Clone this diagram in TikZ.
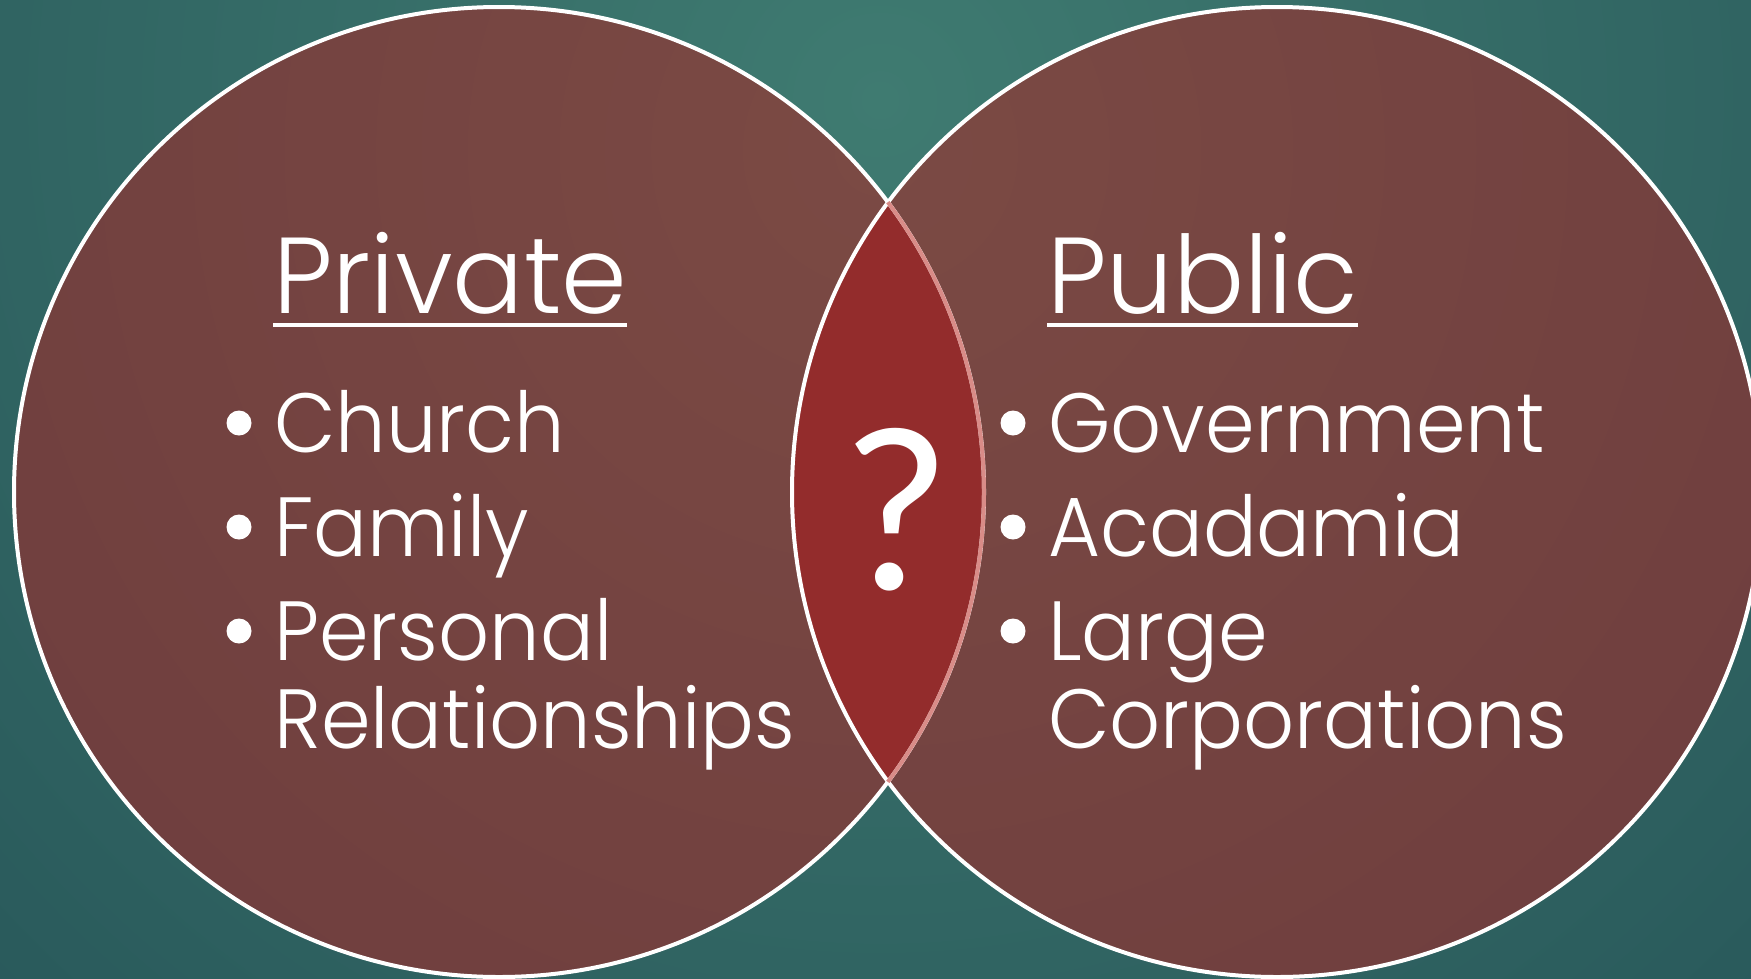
\documentclass[tikz,border=0pt]{standalone}
\usepackage{fontspec}
\setmainfont{Poppins}
\newfontfamily\titlefont{Poppins Light}[FakeStretch=0.977]
\newfontfamily\itemfont{Poppins Light}[FakeStretch=0.95]
\newfontfamily\qfont{Carlito}
\definecolor{bgin}{HTML}{3F7B71}
\definecolor{bgout}{HTML}{143946}
\definecolor{cin}{HTML}{7B4A44}
\definecolor{cout}{HTML}{633238}
\definecolor{lensred}{HTML}{932C2C}
\definecolor{lensedge}{HTML}{D98C88}
\pgfdeclareradialshading{bgshade}{\pgfpoint{0bp}{0bp}}{color(0bp)=(bgin); color(50bp)=(bgout)}
\pgfdeclareradialshading{cshade}{\pgfpoint{0bp}{0bp}}{color(0bp)=(cin); color(50bp)=(cout)}
\tikzset{
  titletext/.style={text=white, inner sep=0pt, anchor=base west, font=\titlefont\fontsize{108}{110}\selectfont},
  itemtext/.style={text=white, inner sep=0pt, anchor=base west, font=\itemfont\fontsize{84}{88}\selectfont},
  bulletdot/.style={circle, fill=white, inner sep=0pt, minimum size=25pt},
  ring/.style={draw=white, line width=4pt},
  uline/.style={draw=white, line width=4pt},
}
\begin{document}
\begin{tikzpicture}[x=1pt,y=-1pt]
\useasboundingbox (0,0) rectangle (1751,978);
% background
\begin{scope}
\clip (0,0) rectangle (1751,978);
\shade[shading=bgshade] (880,100) circle (1250);
\end{scope}
\coordinate (L) at (499,492);
\coordinate (R) at (1277,492);
% circle fills
\begin{scope}
\clip (L) circle (485) (R) circle (485);
\shade[shading=cshade] (880,150) circle (1100);
\end{scope}
% lens
\begin{scope}
\clip (L) circle (485);
\fill[lensred] (R) circle (485);
\end{scope}
% outlines
\draw[ring] (L) circle (485);
\draw[ring] (R) circle (485);
\draw[lensedge, line width=4pt] (L) ++(36.7:485) arc[start angle=36.7, end angle=-36.7, radius=485];
% titles
\node[titletext] (priv) at (273,313) {Private};
\draw[uline] ([yshift=-12pt]priv.base west) -- ([yshift=-12pt]priv.base east);
\node[titletext] (pub) at (1047,313) {Public};
\draw[uline] ([yshift=-12pt]pub.base west) -- ([yshift=-12pt]pub.base east);
% left items
\node[bulletdot] (b1) at (239,423) {};
\node[itemtext] (church) at (274,452) {Church};
\node[bulletdot] (b2) at (239,527) {};
\node[itemtext] (family) at (274,556) {Family};
\node[bulletdot] (b3) at (239,631) {};
\node[itemtext] (personal) at (274,660) {Personal};
\node[itemtext] (relat) at (274,748) {Relationships};
% right items
\node[bulletdot] (b4) at (1013,423) {};
\node[itemtext] (gov) at (1048,452) {Government};
\node[bulletdot] (b5) at (1013,527) {};
\node[itemtext] (acad) at (1048,556) {Acadamia};
\node[bulletdot] (b6) at (1013,631) {};
\node[itemtext] (large) at (1048,660) {Large};
\node[itemtext] (corp) at (1048,748) {Corporations};
% question mark
\node[text=white, inner sep=0pt, anchor=base, font=\qfont\fontsize{236}{236}\selectfont] (q) at (896,589) {?};
\end{tikzpicture}
\end{document}
